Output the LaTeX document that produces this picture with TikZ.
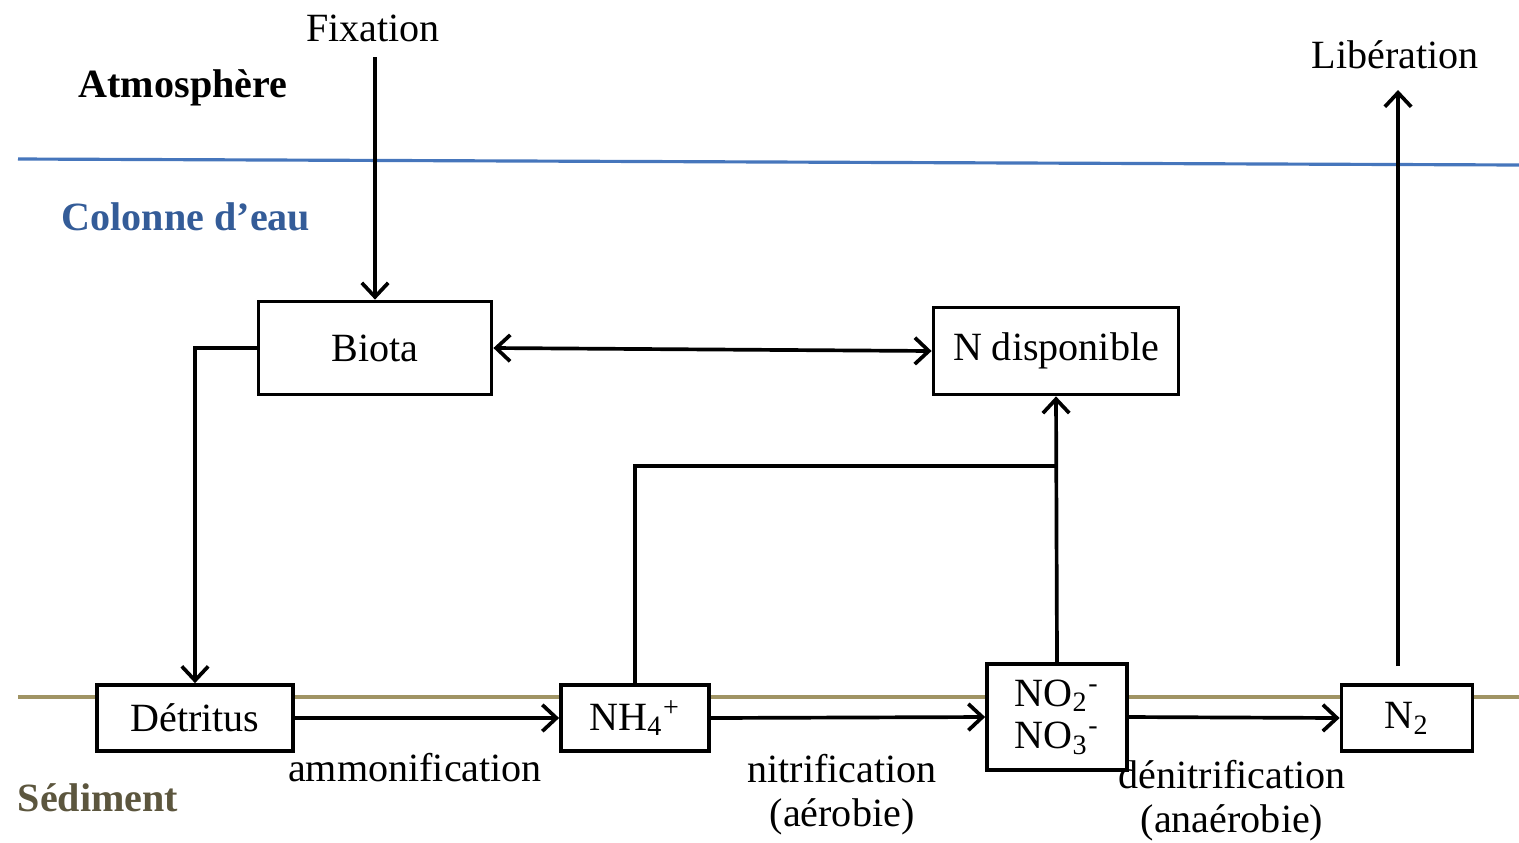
\documentclass[tikz,border=0pt]{standalone}
\usepackage{fontspec}
\setmainfont{Liberation Serif}
\usetikzlibrary{arrows.meta}
\definecolor{waterblue}{RGB}{70,118,188}
\definecolor{waterlabel}{RGB}{52,92,152}
\definecolor{sedline}{RGB}{160,148,100}
\definecolor{sedlabel}{RGB}{92,86,62}

\begin{document}
\begin{tikzpicture}[x=0.01cm, y=-0.01cm,
  >={Straight Barb[length=4pt, width=7.5pt]},
  every node/.style={font=\fontsize{11.4}{13}\selectfont},
  pool/.style={draw, line width=1.05pt, inner sep=0pt, align=center},
  flux/.style={->, line width=1.05pt},
  zone/.style={font=\fontsize{11.4}{13}\selectfont\bfseries}]
  \useasboundingbox (0,0) rectangle (1519,842);

  % Interfaces
  \draw[waterblue, line width=0.9pt] (18,159) -- (1519,165);
  \draw[sedline, line width=0.9pt] (18,697) -- (1519,697);

  % Compartments
  \node[zone] (atmo) at (183,88) {Atmosphère};
  \node[zone, waterlabel] (colonne) at (186,217) {Colonne d’eau};
  \node[zone, sedlabel] (sediment) at (98,798) {Sédiment};

  % Pools
  \node[pool, minimum width=2.33cm, minimum height=0.93cm] (biota) at (375,348) {Biota};
  \node[pool, minimum width=2.45cm, minimum height=0.87cm] (ndispo) at (1056,351) {N disponible};
  \node[pool, fill=white, minimum width=1.96cm, minimum height=0.66cm] (detritus) at (195,718) {Détritus};
  \node[pool, fill=white, minimum width=1.48cm, minimum height=0.66cm] (nhfour) at (635,718) {NH\textsubscript{4}\textsuperscript{+}};
  \node[pool, fill=white, minimum width=1.40cm, minimum height=1.06cm] (nox) at (1057,717)
    {NO\textsubscript{2}\textsuperscript{-}\\[-1pt]NO\textsubscript{3}\textsuperscript{-}};
  \node[pool, fill=white, minimum width=1.31cm, minimum height=0.66cm] (ntwo) at (1407,718) {N\textsubscript{2}};

  % Exchanges with the atmosphere
  \node (fixation) at (373,28) {Fixation};
  \coordinate (fixstart) at (375,57);
  \draw[flux] (fixstart) -- (biota.north);
  \node (liberation) at (1395,55) {Libération};
  \coordinate (libstart) at (1398,666);
  \coordinate (libend) at (1398,90);
  \draw[flux] (libstart) -- (libend);

  % Internal fluxes
  \draw[flux, <->] (biota.east) -- (ndispo.west);
  \draw[flux] (biota.west) -| (detritus.north);
  \coordinate (junction) at (1057,466);
  \draw[line width=1.05pt] (nhfour.north) |- (junction);
  \draw[flux] (nox.north) -- (ndispo.south);
  \draw[flux] (detritus.east) -- (nhfour.west);
  \draw[flux] (nhfour.east) -- (nox.west);
  \draw[flux] (nox.east) -- (ntwo.west);

  % Process labels
  \node (ammo) at (415,768) {ammonification};
  \node[align=center] (nitri) at (842,795) {nitrification\\[-0.5pt](aérobie)};
  \node[align=center] (denitri) at (1232,801) {dénitrification\\[-0.5pt](anaérobie)};
\end{tikzpicture}
\end{document}
